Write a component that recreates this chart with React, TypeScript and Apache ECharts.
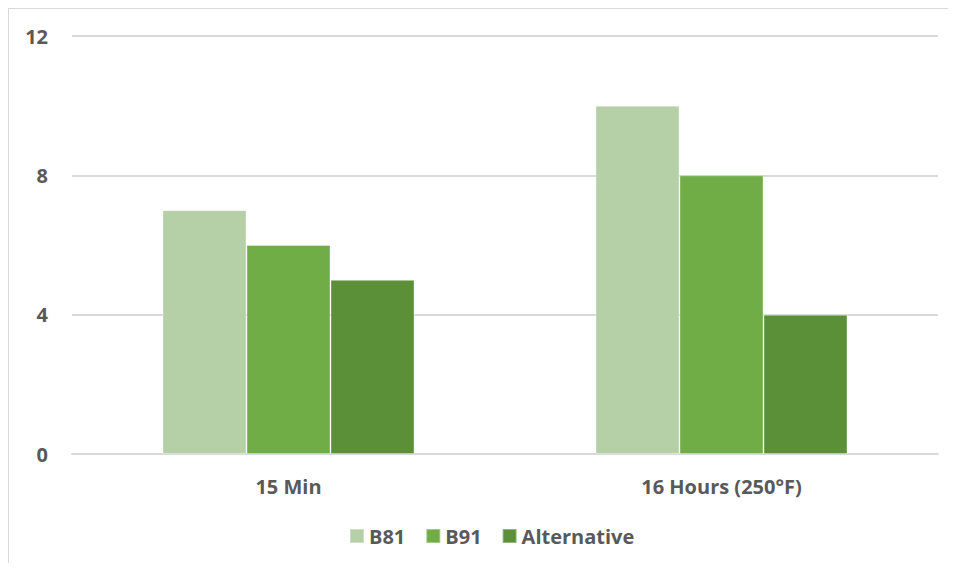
import React, { useEffect, useRef } from "react";
import * as echarts from "echarts";

const categories = ["15 Min", "16 Hours (250°F)"];
const seriesNames = ["B81", "B91", "Alternative"];
const b81 = [7, 10];
const b91 = [6, 8];
const alternative = [5, 4];
const colors = ["#b5cfa7", "#70ad47", "#5b9039"];

export default function App() {
  const ref = useRef<HTMLDivElement>(null);
  useEffect(() => {
    if (!ref.current) return;
    const chart = echarts.init(ref.current, undefined, { renderer: "svg" });
    const font = "'Open Sans', Lato, sans-serif";
    const values = [b81, b91, alternative];
    chart.setOption({
      animation: false,
      backgroundColor: "#ffffff",
      color: colors,
      grid: { left: 63, right: 18, top: 27, bottom: 109, containLabel: false },
      legend: {
        top: 512,
        left: 335,
        itemWidth: 14,
        itemHeight: 14,
        itemGap: 20,
        icon: "rect",
        textStyle: { color: "#595959", fontSize: 20, fontWeight: "bold", fontFamily: font },
        data: seriesNames,
      },
      xAxis: {
        type: "category",
        data: categories,
        axisLine: { show: true, lineStyle: { color: "#d9d9d9", width: 2 } },
        axisTick: { show: false },
        axisLabel: { color: "#595959", fontSize: 20, fontWeight: "bold", fontFamily: font, margin: 22 },
      },
      yAxis: {
        type: "value",
        min: 0,
        max: 12,
        interval: 4,
        axisLine: { show: false },
        axisTick: { show: false },
        axisLabel: { color: "#595959", fontSize: 20, fontWeight: "bold", fontFamily: font, margin: 24 },
        splitLine: { lineStyle: { color: "#d9d9d9", width: 2 } },
      },
      series: seriesNames.map((name, i) => ({
        name,
        type: "bar",
        data: values[i],
        barWidth: 84,
        barGap: "0%",
        itemStyle: { color: colors[i], borderColor: "rgba(255,255,255,0.35)", borderWidth: 1 },
      })),
    });
    return () => chart.dispose();
  }, []);
  return (
    <div
      style={{
        marginLeft: -1,
        marginTop: -1,
        width: 949,
        height: 556,
        borderTop: "2px solid #d9d9d9",
        borderLeft: "2px solid #d9d9d9",
        boxSizing: "border-box",
      }}
    >
      <div ref={ref} style={{ width: 947, height: 554 }} />
    </div>
  );
}
